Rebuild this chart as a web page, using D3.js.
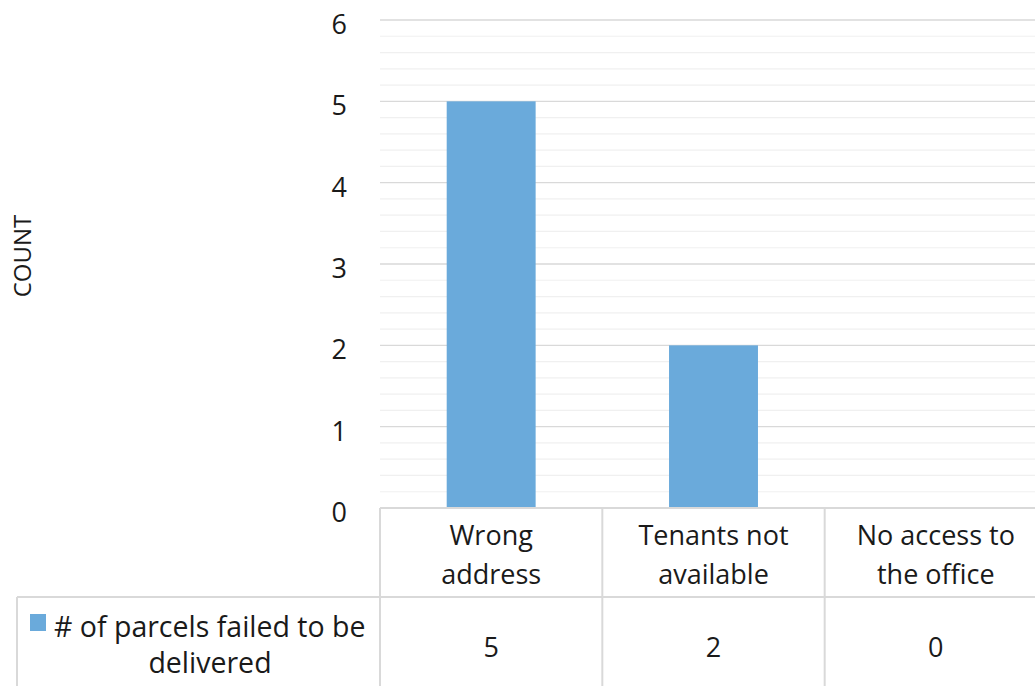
<!DOCTYPE html>
<meta charset="utf-8">
<style>
  body { margin: 0; background: #fff; }
  text { font-family: "Open Sans", sans-serif; fill: #1a1a1a; }
</style>
<svg width="1035" height="686"></svg>
<script src="https://cdn.jsdelivr.net/npm/d3@7"></script>
<script>
  var categories = [["Wrong", "address"], ["Tenants not", "available"], ["No access to", "the office"]];
  var values = [5, 2, 0];
  var seriesName = ["# of parcels failed to be", "delivered"];
  var yTicks = [0, 1, 2, 3, 4, 5, 6];

  var svg = d3.select("svg"),
      plotLeft = 380, plotRight = 1047, plotTop = 20, plotBottom = 508,
      headerRow = 597, tableBottom = 720, legendLeft = 17;

  var x = d3.scaleBand()
      .domain(categories.map(function(d, i) { return i; }))
      .range([plotLeft, plotRight]);
  var y = d3.scaleLinear().domain([0, 6]).range([plotBottom, plotTop]);
  var barW = x.bandwidth() * 0.4;

  // minor + major gridlines
  svg.append("g").selectAll("line")
      .data(y.ticks(30).filter(function(v) { return Math.abs(v - Math.round(v)) > 1e-6; }))
    .enter().append("line")
      .attr("x1", plotLeft).attr("x2", plotRight)
      .attr("y1", function(d) { return y(d); }).attr("y2", function(d) { return y(d); })
      .style("stroke", "#f0f0f0").style("stroke-width", 1.2);
  svg.append("g").selectAll("line")
      .data(yTicks.filter(function(v) { return v > 0; }))
    .enter().append("line")
      .attr("x1", plotLeft).attr("x2", plotRight)
      .attr("y1", function(d) { return y(d); }).attr("y2", function(d) { return y(d); })
      .style("stroke", "#d9d9d9").style("stroke-width", 1.4);

  // bars
  svg.append("g").selectAll("rect")
      .data(values)
    .enter().append("rect")
      .attr("x", function(d, i) { return x(i) + (x.bandwidth() - barW) / 2; })
      .attr("y", function(d) { return y(d); })
      .attr("width", barW)
      .attr("height", function(d) { return plotBottom - y(d); })
      .style("fill", "#6aaadb");

  // y tick labels
  svg.append("g").selectAll("text")
      .data(yTicks)
    .enter().append("text")
      .attr("x", 347)
      .attr("y", function(d) { return y(d) + 14; })
      .attr("text-anchor", "end")
      .style("font-size", "27px")
      .text(function(d) { return d; });

  // axis title
  svg.append("text")
      .attr("transform", "translate(31,256) rotate(-90)")
      .attr("text-anchor", "middle")
      .style("font-size", "24px")
      .text("COUNT");

  // data table lines
  var grid = svg.append("g").style("stroke", "#d9d9d9").style("stroke-width", 2);
  grid.append("line").attr("x1", plotLeft).attr("x2", plotRight).attr("y1", plotBottom).attr("y2", plotBottom);
  grid.append("line").attr("x1", legendLeft).attr("x2", plotRight).attr("y1", headerRow).attr("y2", headerRow);
  grid.append("line").attr("x1", legendLeft).attr("x2", legendLeft).attr("y1", headerRow).attr("y2", tableBottom);
  grid.selectAll(".col")
      .data(d3.range(categories.length + 1))
    .enter().append("line")
      .attr("x1", function(i) { return plotLeft + i * x.bandwidth(); })
      .attr("x2", function(i) { return plotLeft + i * x.bandwidth(); })
      .attr("y1", plotBottom).attr("y2", tableBottom);

  // category headers
  var head = svg.append("g").selectAll("text")
      .data(categories)
    .enter().append("text")
      .attr("text-anchor", "middle")
      .style("font-size", "27px");
  head.selectAll("tspan")
      .data(function(d, i) { return d.map(function(s) { return {s: s, i: i}; }); })
    .enter().append("tspan")
      .attr("x", function(d) { return x(d.i) + x.bandwidth() / 2; })
      .attr("y", function(d, j) { return 545 + j * 39; })
      .text(function(d) { return d.s; });

  // values row
  svg.append("g").selectAll("text")
      .data(values)
    .enter().append("text")
      .attr("x", function(d, i) { return x(i) + x.bandwidth() / 2; })
      .attr("y", 657)
      .attr("text-anchor", "middle")
      .style("font-size", "27px")
      .text(function(d) { return d; });

  // legend cell
  svg.append("rect")
      .attr("x", 30).attr("y", 614).attr("width", 16).attr("height", 17)
      .style("fill", "#6aaadb");
  svg.append("text")
      .attr("x", 54).attr("y", 637)
      .style("font-size", "28.5px")
      .text(seriesName[0]);
  svg.append("text")
      .attr("x", 210).attr("y", 673)
      .attr("text-anchor", "middle")
      .style("font-size", "28.5px")
      .text(seriesName[1]);
</script>
